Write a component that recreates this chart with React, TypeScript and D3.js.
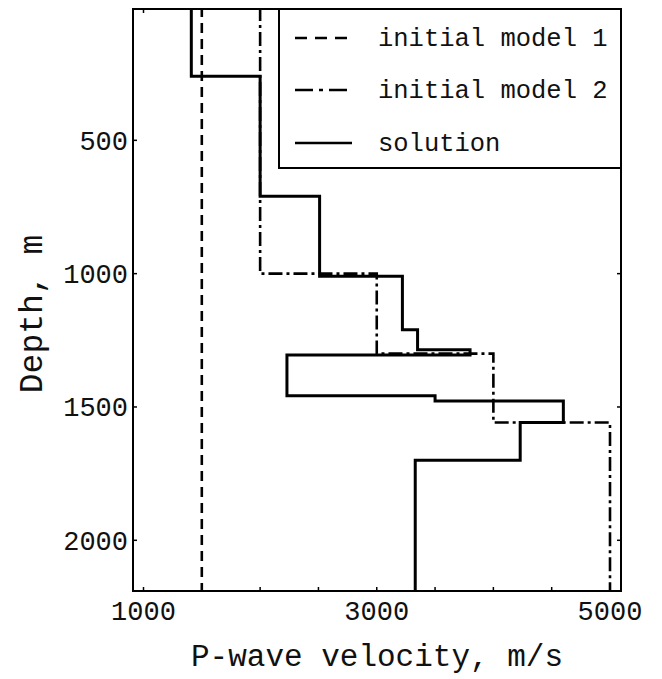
import React from 'react';
import * as d3 from 'd3';

// layer tops (depth, m) and P-wave velocities (m/s)
const solutionTops = [0, 260, 710, 1010, 1210, 1285, 1305, 1458, 1478, 1558, 1700];
const solutionVel = [1410, 2000, 2510, 3220, 3350, 3800, 2230, 3500, 4600, 4230, 3330];
const model1Tops = [0];
const model1Vel = [1500];
const model2Tops = [0, 1000, 1300, 1558];
const model2Vel = [2000, 3000, 4000, 5000];
const maxDepth = 2200;

const xTickLabels = [1000, 3000, 5000];
const yTickLabels = [500, 1000, 1500, 2000];
const xMinorTicks = d3.range(1000, 5001, 500);
const yMinorTicks = d3.range(500, 2001, 500);

const legendItems = [
  { label: 'initial model 1', dash: '12,8' },
  { label: 'initial model 2', dash: '18,6,4,6' },
  { label: 'solution', dash: null },
];

const FONT = "'Liberation Mono', 'DejaVu Sans Mono', monospace";

const frame = { left: 133, right: 621, top: 9, bottom: 591 };

const x = d3.scaleLinear().domain([1000, 5000]).range([143.5, 610]);
const y = d3.scaleLinear().domain([0, 2000]).range([7, 540.3]);

function profile(tops: number[], vel: number[]) {
  const pts: [number, number][] = [];
  tops.forEach((t, i) => {
    const bottom = i < tops.length - 1 ? tops[i + 1] : maxDepth;
    pts.push([vel[i], t]);
    pts.push([vel[i], bottom]);
  });
  return pts;
}

const line = d3.line<[number, number]>()
  .x(d => x(d[0]))
  .y(d => y(d[1]));

export default function App() {
  const w = 662, h = 679;
  const legend = { x0: 279, y0: frame.top, x1: frame.right, y1: 168 };
  const rowY = [38, 90, 143];

  return (
    <svg width={w} height={h} style={{ position: 'absolute', left: 0, top: 0, background: '#fff' }}>
      <defs>
        <clipPath id="plot">
          <rect x={frame.left} y={frame.top} width={frame.right - frame.left} height={frame.bottom - frame.top} />
        </clipPath>
      </defs>

      <g clipPath="url(#plot)" fill="none" stroke="#000" strokeLinejoin="miter">
        <path d={line(profile(model1Tops, model1Vel)) || ''} strokeWidth={2.6} strokeDasharray="10,6" />
        <path d={line(profile(model2Tops, model2Vel)) || ''} strokeWidth={2.6} strokeDasharray="14,4,3,4" />
        <path d={line(profile(solutionTops, solutionVel)) || ''} strokeWidth={3} />
      </g>

      {/* frame */}
      <rect x={frame.left} y={frame.top} width={frame.right - frame.left} height={frame.bottom - frame.top}
        fill="none" stroke="#000" strokeWidth={2} />

      {/* ticks */}
      <g stroke="#000" strokeWidth={1.5}>
        {xMinorTicks.map(v => (
          <g key={'x' + v}>
            <line x1={x(v)} x2={x(v)} y1={frame.bottom} y2={frame.bottom - 4} />
            <line x1={x(v)} x2={x(v)} y1={frame.top} y2={frame.top + 4} />
          </g>
        ))}
        {yMinorTicks.map(v => (
          <g key={'y' + v}>
            <line x1={frame.left} x2={frame.left + 4} y1={y(v)} y2={y(v)} />
            <line x1={frame.right} x2={frame.right - 4} y1={y(v)} y2={y(v)} />
          </g>
        ))}
      </g>

      {/* legend */}
      <rect x={legend.x0} y={legend.y0} width={legend.x1 - legend.x0} height={legend.y1 - legend.y0}
        fill="#fff" stroke="#000" strokeWidth={2} />
      {legendItems.map((it, i) => (
        <g key={it.label}>
          <line x1={295} x2={352} y1={rowY[i]} y2={rowY[i]} stroke="#000" strokeWidth={2.6}
            strokeDasharray={it.dash || undefined} />
          <text x={378} y={rowY[i]} dy="0.32em" fontFamily={FONT} fontSize={25.5} fill="#111">{it.label}</text>
        </g>
      ))}

      {/* tick labels */}
      {xTickLabels.map(v => (
        <text key={'xl' + v} x={x(v)} y={611} dy="0.35em" textAnchor="middle" fontFamily={FONT} fontSize={27} fill="#111">{v}</text>
      ))}
      {yTickLabels.map(v => (
        <text key={'yl' + v} x={128} y={y(v)} dy="0.35em" textAnchor="end" fontFamily={FONT} fontSize={27} fill="#111">{v}</text>
      ))}

      {/* axis titles */}
      <text x={(frame.left + frame.right) / 2} y={655} dy="0.35em" textAnchor="middle" fontFamily={FONT} fontSize={31} fill="#111">P-wave velocity, m/s</text>
      <text transform={`translate(30,${314}) rotate(-90)`} dy="0.35em" textAnchor="middle" fontFamily={FONT} fontSize={33} fill="#111">Depth, m</text>
    </svg>
  );
}
